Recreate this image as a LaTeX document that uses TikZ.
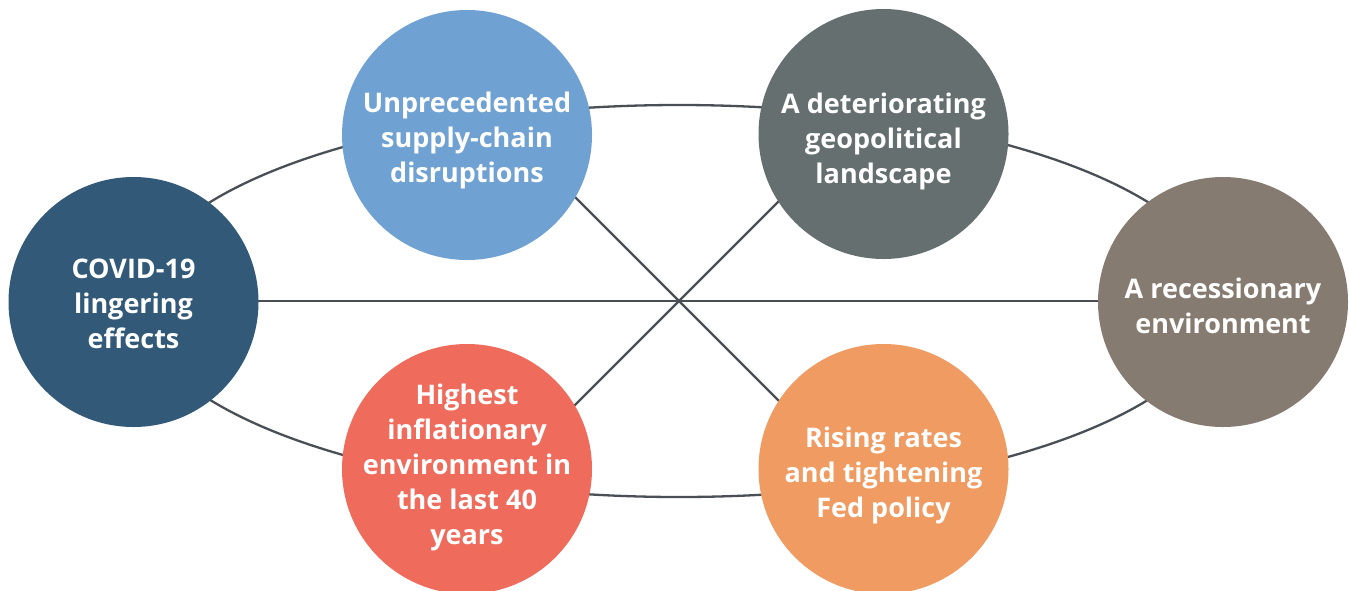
\documentclass[tikz,border=0pt]{standalone}
\usepackage{fontspec}
\setmainfont{Open Sans}
\definecolor{cCovid}{HTML}{325A78}
\definecolor{cSupply}{HTML}{6FA1D2}
\definecolor{cGeo}{HTML}{666F70}
\definecolor{cRec}{HTML}{867B70}
\definecolor{cInfl}{HTML}{EF6B5C}
\definecolor{cRate}{HTML}{EF9B62}
\definecolor{cLine}{HTML}{4A4F55}
\tikzset{
  bubble/.style={circle, minimum size=250pt, inner sep=0pt},
  label text/.style={inner sep=0pt, text=white, align=center, anchor=base,
    font=\fontsize{27}{35}\selectfont\bfseries},
  link/.style={draw=cLine, line width=2.3pt}
}
\begin{document}
\begin{tikzpicture}[x=1pt,y=-1pt]
\useasboundingbox (0,0) rectangle (1349,590);
% connectors
\coordinate (mid) at (679,301);
\draw[link] (mid) ellipse [x radius=543, y radius=196];
\coordinate (cl) at (133,301);
\coordinate (cr) at (1223,301);
\draw[link] (cl) -- (cr);
\coordinate (a1) at (550,172);
\coordinate (a2) at (808,430);
\coordinate (b1) at (808,172);
\coordinate (b2) at (550,430);
\draw[link] (a1) -- (a2);
\draw[link] (b1) -- (b2);
% bubbles
\node[bubble, fill=cCovid] (covid) at (133.5,302) {};
\node[bubble, fill=cSupply] (supply) at (467,135) {};
\node[bubble, fill=cGeo] (geo) at (883.5,134) {};
\node[bubble, fill=cRec] (rec) at (1223,302) {};
\node[bubble, fill=cInfl] (infl) at (467,469) {};
\node[bubble, fill=cRate] (rate) at (883.5,469) {};
% labels (anchored at the baseline of the last line)
\node[label text] (tcovid) at (133.5,348.5) {COVID-19\\lingering\\effects};
\node[label text] (tsupply) at (467,182.5) {Unprecedented\\supply-chain\\disruptions};
\node[label text] (tgeo) at (883.5,183.5) {A deteriorating\\geopolitical\\landscape};
\node[label text] (trec) at (1223,333) {A recessionary\\environment};
\node[label text] (tinfl) at (467,544) {Highest\\inflationary\\environment in\\the last 40\\years};
\node[label text] (trate) at (883.5,517) {Rising rates\\and tightening\\Fed policy};
\end{tikzpicture}
\end{document}
